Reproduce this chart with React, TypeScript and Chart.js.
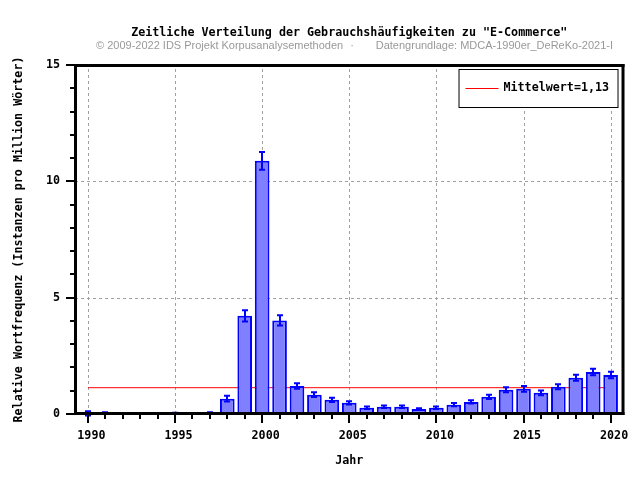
import React, { useEffect, useRef } from "react";
import { Chart, registerables } from "chart.js";

Chart.register(...registerables);

// ---- data ----
const YEARS = [
  1990, 1991, 1992, 1993, 1994, 1995, 1996, 1997, 1998, 1999, 2000, 2001, 2002, 2003, 2004, 2005,
  2006, 2007, 2008, 2009, 2010, 2011, 2012, 2013, 2014, 2015, 2016, 2017, 2018, 2019, 2020,
];
const VALUES = [
  0.03, 0.04, 0.02, 0.02, 0.02, 0.03, 0.005, 0.05, 0.66, 4.22, 10.88, 4.02, 1.2, 0.83, 0.61, 0.48,
  0.27, 0.31, 0.31, 0.21, 0.27, 0.4, 0.52, 0.74, 1.04, 1.08, 0.91, 1.17, 1.56, 1.81, 1.68,
];
const ERRORS = [
  0.09, 0.04, 0.02, 0.02, 0.02, 0.02, 0.005, 0.03, 0.12, 0.24, 0.38, 0.22, 0.12, 0.1, 0.09, 0.07,
  0.05, 0.05, 0.05, 0.04, 0.05, 0.07, 0.07, 0.09, 0.11, 0.12, 0.1, 0.11, 0.13, 0.14, 0.14,
];
const MEAN = 1.13;
const MEAN_LABEL = "Mittelwert=1,13";
const X_TICKS = [1990, 1995, 2000, 2005, 2010, 2015, 2020];
const Y_TICKS = [0, 5, 10, 15];
const X_MIN = 1989.26;
const X_MAX = 2020.74;
const Y_MIN = 0;
const Y_MAX = 15;

const TITLE = 'Zeitliche Verteilung der Gebrauchshäufigkeiten zu "E-Commerce"';
const SUB_LEFT = "© 2009-2022 IDS Projekt Korpusanalysemethoden";
const SUB_DOT = "·";
const SUB_RIGHT = "Datengrundlage: MDCA-1990er_DeReKo-2021-I";
const X_TITLE = "Jahr";
const Y_TITLE = "Relative Wortfrequenz (Instanzen pro Million Wörter)";

// ---- styles ----
const MONO = '"DejaVu Sans Mono", monospace';
const FS = 11.7;
const BAR_FILL = "#8080ff";
const BAR_LINE = "#0000ff";

const decor = {
  id: "decor",
  beforeDatasetsDraw(chart: any) {
    const { ctx, chartArea, scales } = chart;
    const { left, right, top, bottom } = chartArea;
    const x = scales.x;
    const y = scales.y;
    ctx.save();
    ctx.strokeStyle = "#a0a0a0";
    ctx.lineWidth = 1;
    ctx.setLineDash([3, 3]);
    X_TICKS.forEach((v) => {
      const px = Math.round(x.getPixelForValue(v)) + 0.5;
      ctx.beginPath();
      ctx.moveTo(px, bottom);
      ctx.lineTo(px, top);
      ctx.stroke();
    });
    Y_TICKS.forEach((v) => {
      if (v === Y_MIN || v === Y_MAX) return;
      const py = Math.round(y.getPixelForValue(v)) + 0.5;
      ctx.beginPath();
      ctx.moveTo(left, py);
      ctx.lineTo(right, py);
      ctx.stroke();
    });
    ctx.restore();
  },
  afterDatasetsDraw(chart: any) {
    const { ctx, scales } = chart;
    const x = scales.x;
    const y = scales.y;
    ctx.save();
    ctx.strokeStyle = BAR_LINE;
    ctx.lineWidth = 2;
    ctx.setLineDash([]);
    YEARS.forEach((yr, i) => {
      const px = Math.round(x.getPixelForValue(yr));
      const t = y.getPixelForValue(VALUES[i] + ERRORS[i]);
      const b = y.getPixelForValue(VALUES[i] - ERRORS[i]);
      ctx.beginPath();
      ctx.moveTo(px, t);
      ctx.lineTo(px, b);
      ctx.moveTo(px - 3, t);
      ctx.lineTo(px + 3, t);
      ctx.moveTo(px - 3, b);
      ctx.lineTo(px + 3, b);
      ctx.stroke();
    });
    ctx.restore();
  },
  afterDraw(chart: any) {
    const { ctx, chartArea, scales } = chart;
    const { left, right, top, bottom } = chartArea;
    const x = scales.x;
    const y = scales.y;
    ctx.save();
    ctx.setLineDash([]);
    ctx.fillStyle = "#000";
    // border
    ctx.fillRect(left - 1, top - 1, 3, bottom - top + 2);
    ctx.fillRect(right - 2, top - 1, 3, bottom - top + 2);
    ctx.fillRect(left - 1, top - 1, right - left + 2, 3);
    ctx.fillRect(left - 1, bottom - 2, right - left + 2, 3);
    // y ticks
    for (let v = Y_MIN; v <= Y_MAX; v++) {
      const py = Math.round(y.getPixelForValue(v));
      const major = Y_TICKS.includes(v);
      const len = major ? 9 : 5;
      ctx.fillRect(left - len, py - 1, len, 2);
    }
    // x ticks
    YEARS.forEach((yr) => {
      const px = Math.round(x.getPixelForValue(yr));
      const major = X_TICKS.includes(yr);
      ctx.fillRect(px - 1, bottom, 2, major ? 9 : 5);
    });
    // legend
    const bx = right - 165;
    const by = top + 4;
    const bw = 160;
    const bh = 39;
    ctx.fillStyle = "#fff";
    ctx.fillRect(bx, by, bw, bh);
    ctx.strokeStyle = "#000";
    ctx.lineWidth = 1;
    ctx.strokeRect(bx + 0.5, by + 0.5, bw - 1, bh - 1);
    ctx.strokeStyle = "#ff0000";
    ctx.beginPath();
    ctx.moveTo(bx + 7, by + 19.5);
    ctx.lineTo(bx + 40, by + 19.5);
    ctx.stroke();
    ctx.fillStyle = "#000";
    ctx.font = `bold ${FS}px ${MONO}`;
    ctx.textBaseline = "middle";
    ctx.textAlign = "left";
    ctx.fillText(MEAN_LABEL, bx + 45, by + 19);
    // title
    ctx.textAlign = "center";
    ctx.fillText(TITLE, (left + right) / 2, 33);
    ctx.fillStyle = "#999";
    ctx.font = `11px "Liberation Sans", Arial, sans-serif`;
    ctx.textAlign = "left";
    ctx.fillText(SUB_LEFT, 96, 46);
    ctx.textAlign = "center";
    ctx.fillText(SUB_DOT, 352, 46);
    ctx.textAlign = "right";
    ctx.fillText(SUB_RIGHT, 613, 46);
    ctx.restore();
  },
};

export default function App() {
  const ref = useRef<HTMLCanvasElement>(null);
  useEffect(() => {
    const canvas = ref.current;
    if (!canvas) return;
    const font = { family: MONO, size: FS, weight: "bold" as const };
    const chart = new Chart(canvas, {
      type: "bar",
      data: {
        datasets: [
          {
            type: "bar",
            label: "Wortfrequenz",
            data: YEARS.map((yr, i) => ({ x: yr, y: VALUES[i] })),
            backgroundColor: BAR_FILL,
            borderColor: BAR_LINE,
            borderWidth: 2,
            barPercentage: 0.84,
            categoryPercentage: 1,
            order: 1,
          } as any,
          {
            type: "line",
            label: MEAN_LABEL,
            data: [
              { x: YEARS[0], y: MEAN },
              { x: YEARS[YEARS.length - 1], y: MEAN },
            ],
            borderColor: "#ff0000",
            borderWidth: 1,
            pointRadius: 0,
            fill: false,
            order: 2,
          } as any,
        ],
      },
      options: {
        responsive: false,
        animation: false,
        events: [],
        devicePixelRatio: 1,
        layout: { padding: { top: 65, right: 13, left: 0, bottom: 0 } },
        plugins: {
          legend: { display: false },
          tooltip: { enabled: false },
          title: { display: false },
        },
        scales: {
          x: {
            type: "linear",
            min: X_MIN,
            max: X_MAX,
            offset: false,
            grid: { display: false, drawTicks: false, tickLength: 0, offset: false },
            border: { display: false },
            afterBuildTicks: (s: any) => {
              s.ticks = X_TICKS.map((v) => ({ value: v }));
            },
            afterFit: (s: any) => {
              s.height = 66;
            },
            ticks: {
              autoSkip: false,
              maxRotation: 0,
              minRotation: 0,
              padding: 15,
              labelOffset: 3.5,
              color: "#000",
              font,
              callback: (v: any) => String(v),
            },
            title: {
              display: true,
              text: X_TITLE,
              color: "#000",
              font,
              padding: { top: 0, bottom: 12 },
            },
          },
          y: {
            type: "linear",
            min: Y_MIN,
            max: Y_MAX,
            grid: { display: false, drawTicks: false, tickLength: 0 },
            border: { display: false },
            afterBuildTicks: (s: any) => {
              s.ticks = Y_TICKS.map((v) => ({ value: v }));
            },
            afterFit: (s: any) => {
              s.width = 75;
            },
            ticks: {
              padding: 15,
              color: "#000",
              font,
              callback: (v: any) => String(v),
            },
            title: {
              display: true,
              text: Y_TITLE,
              color: "#000",
              font,
              padding: { top: 12, bottom: 0 },
            },
          },
        },
      } as any,
      plugins: [decor],
    });
    return () => chart.destroy();
  }, []);
  return (
    <div style={{ position: "absolute", left: 0, top: 0, width: 640, height: 480, background: "#fff" }}>
      <canvas ref={ref} width={640} height={480} style={{ display: "block", width: 640, height: 480 }} />
    </div>
  );
}
